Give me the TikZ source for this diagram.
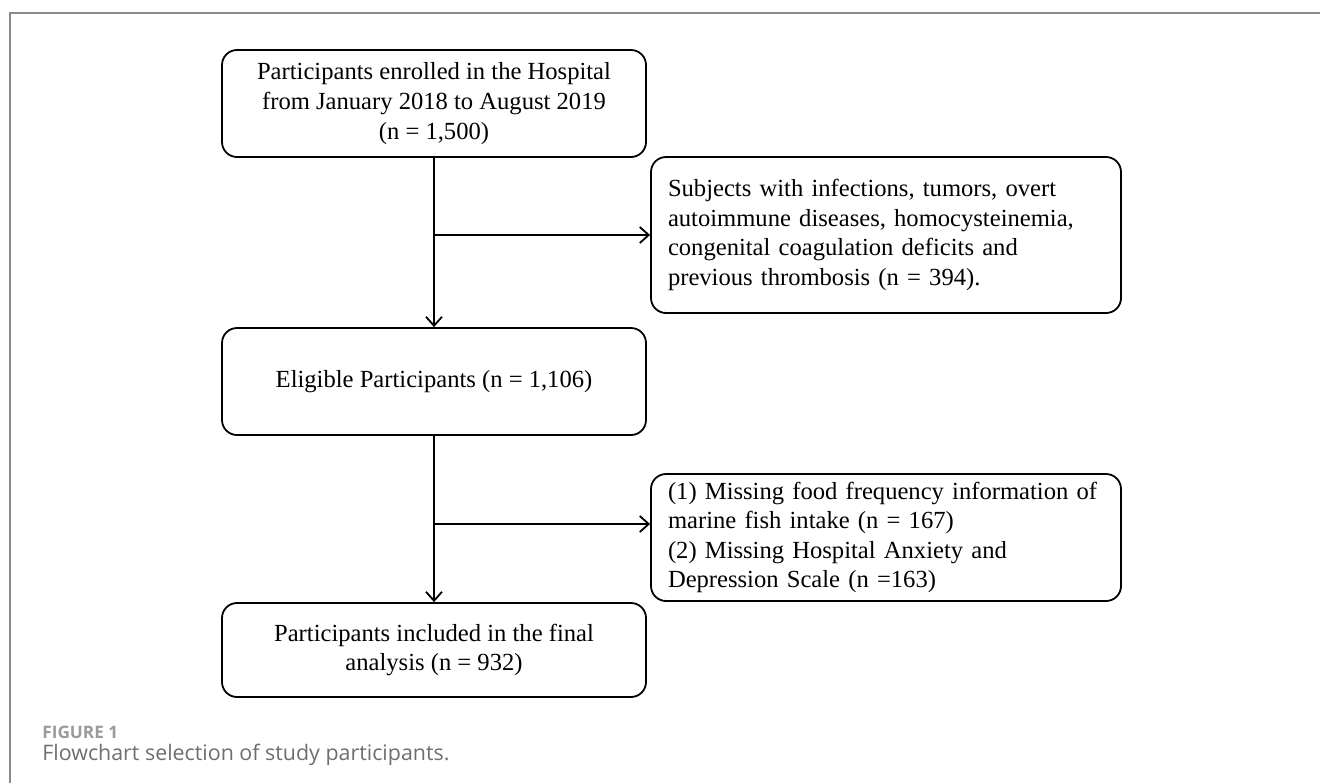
\documentclass[tikz,border=0pt]{standalone}
\usepackage{fontspec}
\setmainfont{Liberation Serif}
\newfontfamily\capfont{Open Sans}
\usepackage{tikz}
\usetikzlibrary{positioning, arrows.meta, calc}
\definecolor{framegray}{HTML}{8A8A8A}
\definecolor{capgray}{HTML}{6E6E6E}

\begin{document}
\begin{tikzpicture}[x=0.5pt, y=-0.5pt, font=\fontsize{12.3}{14.8}\selectfont,
    cbox/.style={draw=black, line width=0.9pt, rounded corners=7.5pt, align=center, minimum width=212pt, inner sep=4pt},
    lbox/.style={draw=black, line width=0.9pt, rounded corners=7.5pt, align=left, text width=218pt, inner xsep=8.5pt, inner ysep=3pt},
    flow/.style={line width=0.9pt, -{Straight Barb[length=4.5pt, width=8pt, line width=0.9pt]}}]

  \useasboundingbox (0,0) rectangle (1320,783);
  \draw[framegray, line width=1.1pt] (1320,13) -- (10,13) -- (10,783);

  \node[cbox, minimum height=53.5pt] (enrol) at (434,103.5)
    {Participants enrolled in the Hospital\\from January 2018 to August 2019\\(n = 1,500)};
  \node[lbox, minimum height=78pt] (excl1) at (886,235)
    {Subjects with infections, tumors, overt\\autoimmune diseases, homocysteinemia,\\congenital coagulation deficits and\\previous thrombosis (n = 394).};
  \node[cbox, minimum height=53.5pt] (eligible) at (434,381.5)
    {Eligible Participants (n = 1,106)};
  \node[lbox, minimum height=63.5pt] (excl2) at (886,537.5)
    {(1) Missing food frequency information of\\marine fish intake (n = 167)\\(2) Missing Hospital Anxiety and\\Depression Scale (n =163)};
  \node[cbox, minimum height=47pt] (final) at (434,650)
    {Participants included in the final\\analysis (n = 932)};

  \coordinate (split2) at (434,524);

  \draw[flow] (enrol) -- (eligible);
  \draw[flow] (enrol.south |- excl1.west) -- (excl1.west);
  \draw[flow] (eligible) -- (final);
  \draw[flow] (split2) -- (split2 -| excl2.west);

  % caption
  \node[anchor=base west, inner sep=0pt, text=capgray!70, font=\capfont\bfseries\fontsize{8.6}{10}\selectfont] (fignum) at (42,738) {FIGURE 1};
  \node[anchor=base west, inner sep=0pt, text=capgray, font=\capfont\fontsize{10.7}{12}\selectfont] (figcap) at (42,760) {Flowchart selection of study participants.};
\end{tikzpicture}
\end{document}
